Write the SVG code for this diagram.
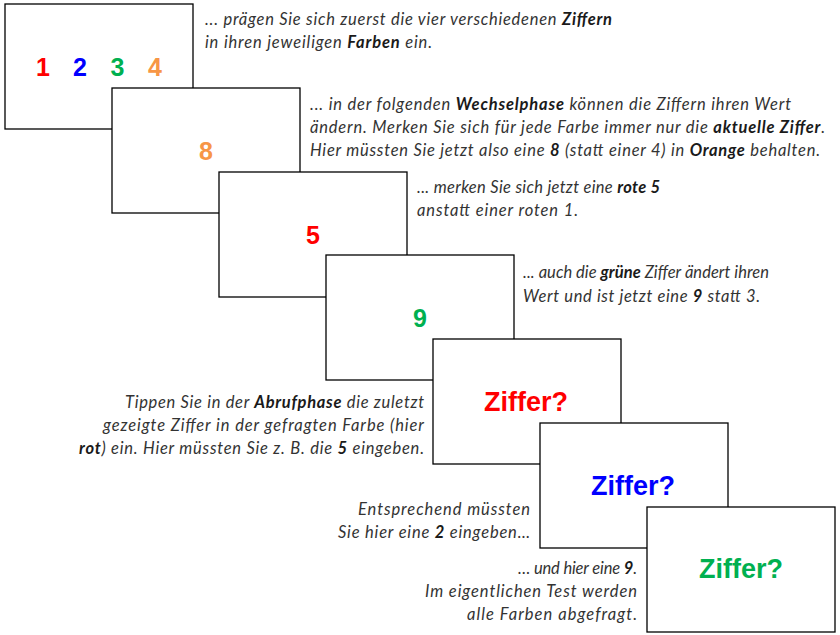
<svg xmlns="http://www.w3.org/2000/svg" width="840" height="635" viewBox="0 0 840 635">
  <style>
    .card { fill: #ffffff; stroke: #000000; stroke-width: 1.3; }
    .digit { font-family: "Liberation Sans", Arial, sans-serif; font-weight: bold; font-size: 25px; text-anchor: middle; }
    .ask { font-family: "Liberation Sans", Arial, sans-serif; font-weight: bold; font-size: 27px; text-anchor: middle; }
    .note { font-family: Lato, "Open Sans", sans-serif; font-style: italic; font-size: 16.5px; fill: #333333; }
    .note tspan.b { font-weight: bold; fill: #1a1a1a; }
    .red { fill: #ff0000; }
    .blue { fill: #0000ff; }
    .green { fill: #00b050; }
    .orange { fill: #f79646; }
  </style>

  <!-- cascade of screens, each one drawn on top of the previous -->
  <g id="screen-1">
    <rect class="card" x="5" y="4" width="188" height="125"/>
    <text class="digit red" x="43" y="76">1</text>
    <text class="digit blue" x="80" y="76">2</text>
    <text class="digit green" x="117.5" y="76">3</text>
    <text class="digit orange" x="155" y="76">4</text>
  </g>
  <g id="screen-2">
    <rect class="card" x="112" y="88" width="188" height="125"/>
    <text class="digit orange" x="206" y="160">8</text>
  </g>
  <g id="screen-3">
    <rect class="card" x="219" y="172" width="188" height="125"/>
    <text class="digit red" x="313" y="244">5</text>
  </g>
  <g id="screen-4">
    <rect class="card" x="326" y="255" width="188" height="125"/>
    <text class="digit green" x="420" y="327">9</text>
  </g>
  <g id="screen-5">
    <rect class="card" x="433" y="339" width="188" height="125"/>
    <text class="ask red" x="526" y="411">Ziffer?</text>
  </g>
  <g id="screen-6">
    <rect class="card" x="540" y="423" width="188" height="125"/>
    <text class="ask blue" x="633" y="495">Ziffer?</text>
  </g>
  <g id="screen-7">
    <rect class="card" x="647" y="507" width="188" height="125"/>
    <text class="ask green" x="741" y="578">Ziffer?</text>
  </g>

  <!-- explanatory notes; each line is stretched to its set width by letter spacing only -->
  <g id="note-1">
    <text class="note" x="205" y="25" textLength="407" lengthAdjust="spacing">... prägen Sie sich zuerst die vier verschiedenen <tspan class="b">Ziffern</tspan></text>
    <text class="note" x="205" y="48" textLength="227" lengthAdjust="spacing">in ihren jeweiligen <tspan class="b">Farben</tspan> ein.</text>
  </g>
  <g id="note-2">
    <text class="note" x="310" y="110" textLength="481" lengthAdjust="spacing">... in der folgenden <tspan class="b">Wechselphase</tspan> können die Ziffern ihren Wert</text>
    <text class="note" x="310" y="133" textLength="515" lengthAdjust="spacing">ändern. Merken Sie sich für jede Farbe immer nur die <tspan class="b">aktuelle Ziffer</tspan>.</text>
    <text class="note" x="310" y="156" textLength="510" lengthAdjust="spacing">Hier müssten Sie jetzt also eine <tspan class="b">8</tspan> (statt einer 4) in <tspan class="b">Orange</tspan> behalten.</text>
  </g>
  <g id="note-3">
    <text class="note" x="417" y="193" textLength="243" lengthAdjust="spacing">... merken Sie sich jetzt eine <tspan class="b">rote 5</tspan></text>
    <text class="note" x="417" y="216" textLength="161" lengthAdjust="spacing">anstatt einer roten 1.</text>
  </g>
  <g id="note-4">
    <text class="note" x="523" y="278" textLength="246" lengthAdjust="spacing">... auch die <tspan class="b">grüne</tspan> Ziffer ändert ihren</text>
    <text class="note" x="523" y="302" textLength="237" lengthAdjust="spacing">Wert und ist jetzt eine <tspan class="b">9</tspan> statt 3.</text>
  </g>
  <g id="note-5">
    <text class="note" x="125" y="408" textLength="299" lengthAdjust="spacing">Tippen Sie in der <tspan class="b">Abrufphase</tspan> die zuletzt</text>
    <text class="note" x="103" y="431" textLength="321" lengthAdjust="spacing">gezeigte Ziffer in der gefragten Farbe (hier</text>
    <text class="note" x="79" y="454" textLength="345" lengthAdjust="spacing"><tspan class="b">rot</tspan>) ein. Hier müssten Sie z. B. die <tspan class="b">5</tspan> eingeben.</text>
  </g>
  <g id="note-6">
    <text class="note" x="358" y="515" textLength="172" lengthAdjust="spacing">Entsprechend müssten</text>
    <text class="note" x="338" y="538" textLength="192" lengthAdjust="spacing">Sie hier eine <tspan class="b">2</tspan> eingeben…</text>
  </g>
  <g id="note-7">
    <text class="note" x="518" y="574" textLength="119" lengthAdjust="spacing">… und hier eine <tspan class="b">9</tspan>.</text>
    <text class="note" x="425" y="597" textLength="212" lengthAdjust="spacing">Im eigentlichen Test werden</text>
    <text class="note" x="467" y="620" textLength="170" lengthAdjust="spacing">alle Farben abgefragt.</text>
  </g>
</svg>
